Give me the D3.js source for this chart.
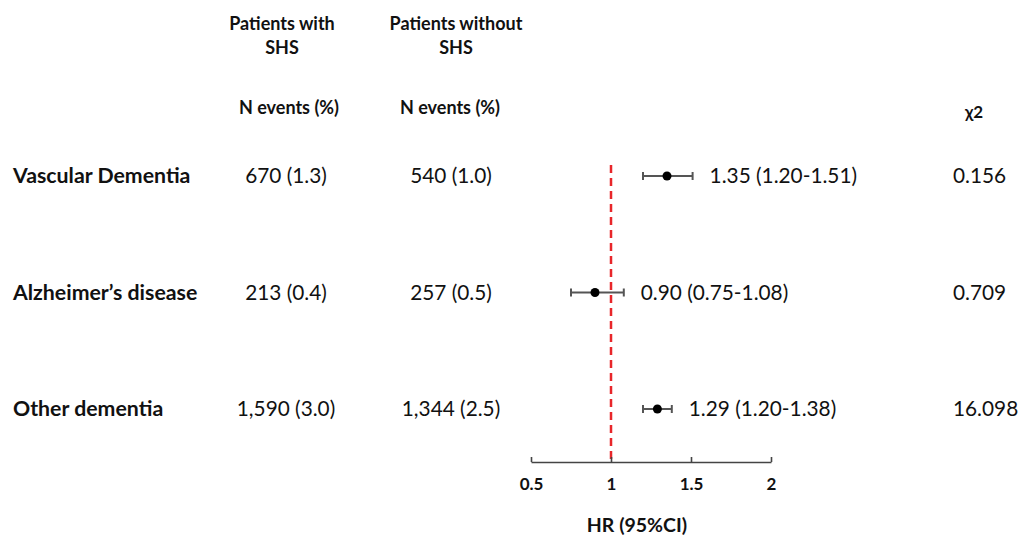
<!DOCTYPE html>
<html>
<head>
<meta charset="utf-8">
<script src="https://cdn.jsdelivr.net/npm/d3@7"></script>
<style>
  body { margin: 0; background: #fff; }
  svg { display: block; font-family: Lato, "Open Sans", sans-serif; }
</style>
</head>
<body>
<div id="chart"></div>
<script>
const outcomes = ["Vascular Dementia", "Alzheimer\u2019s disease", "Other dementia"];
const withSHS = ["670 (1.3)", "213 (0.4)", "1,590 (3.0)"];
const withoutSHS = ["540 (1.0)", "257 (0.5)", "1,344 (2.5)"];
const hr = [1.35, 0.90, 1.29];
const hrLow = [1.20, 0.75, 1.20];
const hrHigh = [1.51, 1.08, 1.38];
const chi2 = ["0.156", "0.709", "16.098"];
const ticks = [0.5, 1, 1.5, 2];

const width = 1018, height = 538;

const svg = d3.select("#chart").append("svg")
  .attr("width", width)
  .attr("height", height);

const x = d3.scaleLinear().domain([0.5, 2]).range([531, 771]);
const y = d3.scalePoint().domain(outcomes).range([176, 409]);
const axisY = 462;

// column headers
const head = svg.append("g")
  .attr("font-weight", "bold")
  .attr("font-size", 18)
  .attr("fill", "#111")
  .attr("text-anchor", "middle");

head.append("text").attr("x", 282).attr("y", 30).text("Patients with");
head.append("text").attr("x", 282).attr("y", 54).text("SHS");
head.append("text").attr("x", 456).attr("y", 30).text("Patients without");
head.append("text").attr("x", 456).attr("y", 54).text("SHS");
head.append("text").attr("x", 289).attr("y", 114).text("N events (%)");
head.append("text").attr("x", 450).attr("y", 114).text("N events (%)");
head.append("text").attr("x", 974).attr("y", 118).attr("font-size", 17).text("\u03c72");

// rows
const rows = svg.append("g")
  .selectAll("g")
  .data(outcomes)
  .join("g")
  .attr("transform", d => `translate(0,${y(d)})`);

rows.append("text")
  .attr("x", 13).attr("dy", "0.35em")
  .attr("font-weight", "bold").attr("font-size", 21.3).attr("fill", "#111")
  .text(d => d);

rows.append("text")
  .attr("x", 286).attr("dy", "0.35em").attr("text-anchor", "middle")
  .attr("font-size", 20.8).attr("fill", "#111")
  .text((d, i) => withSHS[i]);

rows.append("text")
  .attr("x", 451).attr("dy", "0.35em").attr("text-anchor", "middle")
  .attr("font-size", 20.8).attr("fill", "#111")
  .text((d, i) => withoutSHS[i]);

rows.append("text")
  .attr("x", 953).attr("dy", "0.35em")
  .attr("font-size", 20.8).attr("fill", "#111")
  .text((d, i) => chi2[i]);

// reference line at HR = 1
svg.append("line")
  .attr("x1", x(1)).attr("x2", x(1))
  .attr("y1", 165).attr("y2", axisY)
  .attr("stroke", "#e8262a")
  .attr("stroke-width", 2.5)
  .attr("stroke-dasharray", "8,5");

// confidence intervals
const ci = svg.append("g").attr("stroke", "#555").attr("stroke-width", 2);
outcomes.forEach((d, i) => {
  const cy = y(d);
  ci.append("line").attr("x1", x(hrLow[i])).attr("x2", x(hrHigh[i])).attr("y1", cy).attr("y2", cy);
  ci.append("line").attr("x1", x(hrLow[i])).attr("x2", x(hrLow[i])).attr("y1", cy - 4).attr("y2", cy + 4);
  ci.append("line").attr("x1", x(hrHigh[i])).attr("x2", x(hrHigh[i])).attr("y1", cy - 4).attr("y2", cy + 4);
});

svg.append("g").selectAll("circle")
  .data(outcomes)
  .join("circle")
  .attr("cx", (d, i) => x(hr[i]))
  .attr("cy", d => y(d))
  .attr("r", 4.5)
  .attr("fill", "#000");

// HR labels
svg.append("g").selectAll("text")
  .data(outcomes)
  .join("text")
  .attr("x", (d, i) => x(hrHigh[i]) + 17)
  .attr("y", d => y(d))
  .attr("dy", "0.35em")
  .attr("font-size", 20.8).attr("fill", "#111")
  .text((d, i) => `${hr[i].toFixed(2)} (${hrLow[i].toFixed(2)}-${hrHigh[i].toFixed(2)})`);

// x axis
const axis = svg.append("g")
  .attr("transform", `translate(0,${axisY})`)
  .call(d3.axisBottom(x).tickValues(ticks).tickFormat(d3.format("")).tickSizeInner(-5).tickSizeOuter(0).tickPadding(16));

axis.select(".domain").attr("stroke", "#444").attr("stroke-width", 1.6);
axis.selectAll(".tick line").attr("stroke", "#444").attr("stroke-width", 1.6);
axis.selectAll(".tick text")
  .attr("font-family", "Lato, 'Open Sans', sans-serif")
  .attr("font-size", 17).attr("font-weight", "bold").attr("fill", "#111");

svg.append("text")
  .attr("x", 637).attr("y", 532)
  .attr("text-anchor", "middle")
  .attr("font-weight", "bold").attr("font-size", 19.5).attr("fill", "#111")
  .text("HR (95%CI)");
</script>
</body>
</html>
